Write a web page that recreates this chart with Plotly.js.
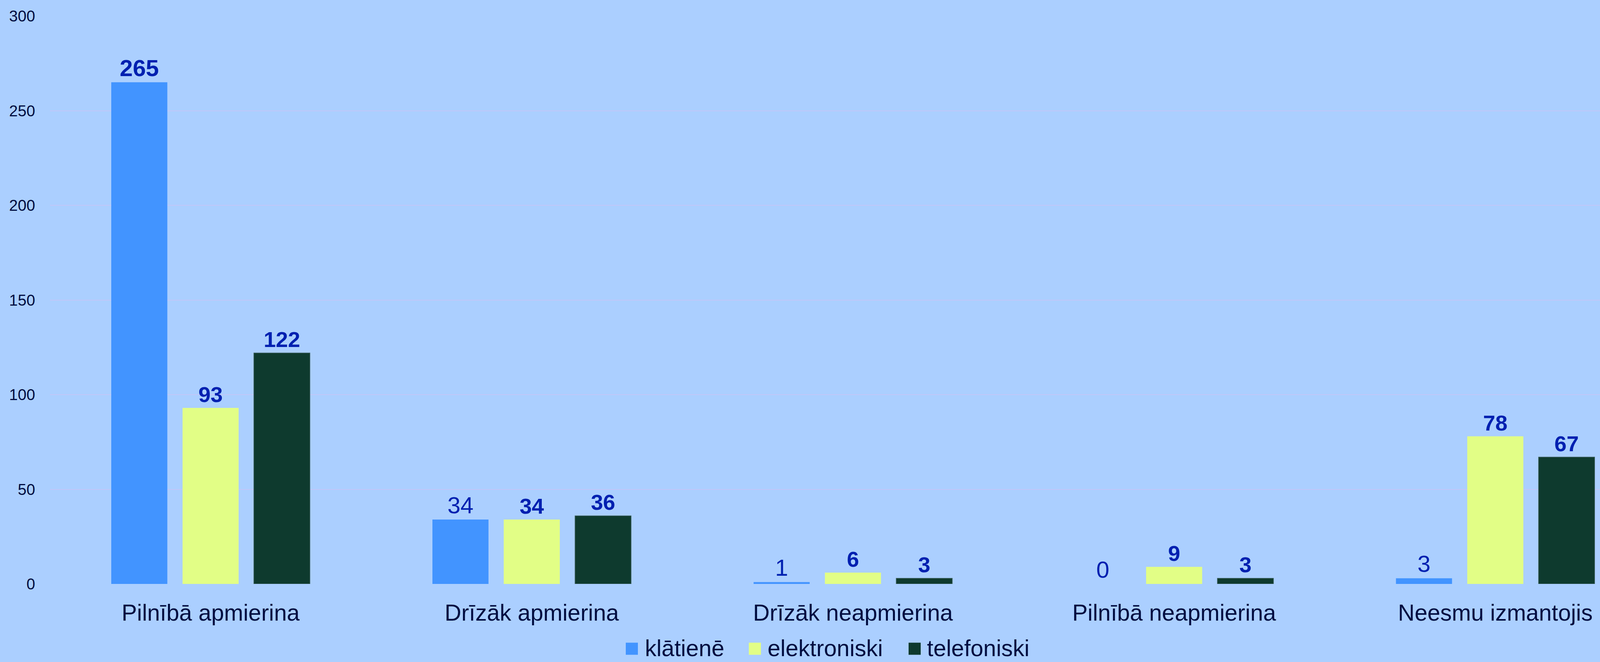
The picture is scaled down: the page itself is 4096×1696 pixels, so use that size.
<!DOCTYPE html>
<html>
<head>
<meta charset="utf-8">
<script src="https://cdn.plot.ly/plotly-3.0.1.min.js"></script>
<style>
  html, body { margin: 0; padding: 0; background: #ABCFFF; }
  #chart { width: 4096px; height: 1696px; }
</style>
</head>
<body>
<div id="chart"></div>
<script>
// ---- data ----
const categories = ["Pilnībā apmierina", "Drīzāk apmierina", "Drīzāk neapmierina", "Pilnībā neapmierina", "Neesmu izmantojis"];
const seriesNames = ["klātienē", "elektroniski", "telefoniski"];
const klatiene = [265, 34, 1, 0, 3];
const elektroniski = [93, 34, 6, 9, 78];
const telefoniski = [122, 36, 3, 3, 67];
const yTicks = [0, 50, 100, 150, 200, 250, 300];

// ---- styles ----
const colors = ["#4294FF", "#E2FE86", "#0E3A2E"];
const lineColors = ["#4294FF", "#E2FE86", "#3C5F5C"];
const boldFlags = [
  [true, false, false, false, false],
  [true, true, true, true, true],
  [true, true, true, true, true]
];
const labelSizes = [
  [60, 60, 60, 60, 60],
  [56, 56, 56, 56, 56],
  [56, 56, 56, 56, 56]
];
const FONT = "Liberation Sans, Arial, sans-serif";
const TEXT_DARK = "#000D40";
const LABEL_BLUE = "#0020B0";

const W = 4096, H = 1696;
const M = { l: 128, r: 0, t: 41, b: 200 };

const seriesValues = [klatiene, elektroniski, telefoniski];
const traces = seriesValues.map((vals, s) => ({
  type: "bar",
  name: seriesNames[s],
  x: categories,
  y: vals,
  text: vals.map((v, i) => boldFlags[s][i] ? "<b>" + v + "</b>" : String(v)),
  textposition: "outside",
  cliponaxis: false,
  textfont: { family: FONT, color: LABEL_BLUE, size: labelSizes[s] },
  marker: { color: colors[s], line: { color: lineColors[s], width: s === 2 ? 1.5 : 0 } },
  hoverinfo: "x+y+name",
  showlegend: false
}));

// custom legend (squares + text), pixel layout converted to paper coords
const pw = W - M.l - M.r, ph = H - M.t - M.b;
const px = x => (x - M.l) / pw;
const py = y => (H - M.b - y) / ph;
const legendItems = [
  { sq: 1602, tx: 1650 },
  { sq: 1917, tx: 1964 },
  { sq: 2326, tx: 2372 }
];
const SQ = 31, legendMidY = 1662;
const shapes = legendItems.map((it, s) => ({
  type: "rect", xref: "paper", yref: "paper",
  x0: px(it.sq), x1: px(it.sq + SQ),
  y0: py(legendMidY + SQ / 2), y1: py(legendMidY - SQ / 2),
  fillcolor: colors[s], line: { width: 0 }
}));
const annotations = legendItems.map((it, s) => ({
  xref: "paper", yref: "paper",
  x: px(it.tx), y: py(legendMidY - 1),
  xanchor: "left", yanchor: "middle",
  borderpad: 0,
  text: seriesNames[s], showarrow: false,
  font: { family: FONT, size: 59, color: TEXT_DARK }
}));

const layout = {
  width: W, height: H,
  margin: M,
  paper_bgcolor: "#ABCFFF",
  plot_bgcolor: "#ABCFFF",
  barmode: "group",
  bargap: 0.334,
  bargroupgap: 0.2135,
  showlegend: false,
  xaxis: {
    type: "category",
    range: [-0.5, 4.326],
    showgrid: false, zeroline: false, showline: false,
    ticks: "",
    ticklabelstandoff: 34,
    tickfont: { family: FONT, size: 59, color: TEXT_DARK },
    fixedrange: true
  },
  yaxis: {
    range: [0, 300],
    tickvals: yTicks,
    ticktext: yTicks.map(String),
    showgrid: true, gridcolor: "#C2C6F8", gridwidth: 2,
    zeroline: false, showline: false,
    ticks: "",
    ticklabelstandoff: 37,
    tickfont: { family: FONT, size: 40, color: TEXT_DARK },
    fixedrange: true
  },
  shapes: shapes,
  annotations: annotations
};

Plotly.newPlot("chart", traces, layout, { staticPlot: true, displayModeBar: false });
</script>
</body>
</html>
